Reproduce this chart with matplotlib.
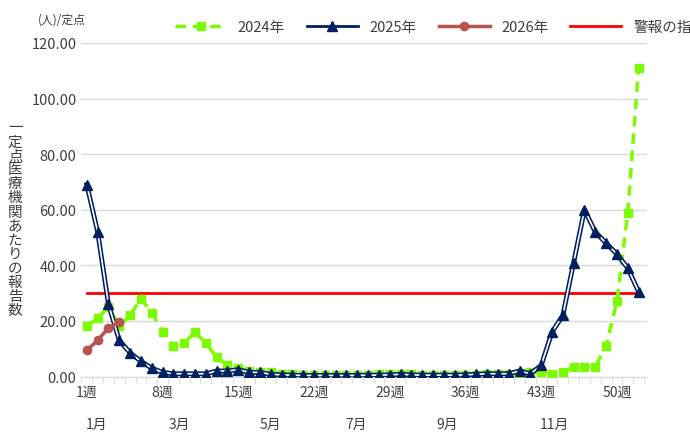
import numpy as np
import matplotlib.pyplot as plt

plt.rcParams['font.family'] = ['Noto Sans CJK JP', 'DejaVu Sans']

weeks = np.arange(1, 53)
y2024 = [18, 21, 25, 18, 22, 28, 23, 16, 11, 12, 16, 12, 7, 4, 3, 2, 1.5, 1.5, 1, 0.8,
         0.6, 0.5, 0.5, 0.5, 0.5, 0.5, 0.6, 0.8, 1, 1, 0.8, 0.6, 0.5, 0.5, 0.5, 0.5,
         0.6, 0.8, 1, 1, 1.2, 1.5, 1.5, 1, 1.5, 3.5, 3.5, 3.5, 11, 27, 59, 111]
y2025 = [69, 52, 26, 13, 8.5, 5.5, 3, 1.5, 1, 1, 1, 1, 2, 2, 2.5, 1.5, 1.5, 0.8, 0.6, 0.5,
         0.4, 0.4, 0.4, 0.4, 0.4, 0.4, 0.5, 0.5, 0.6, 0.8, 0.6, 0.5, 0.5, 0.5, 0.5, 0.6,
         0.8, 1, 1, 1, 2, 1, 4, 16, 22, 41, 60, 52, 48, 44, 39, 30.5]
y2026 = [9.5, 13, 17.5, 19.5]
alert = 30

week_ticks = [1, 8, 15, 22, 29, 36, 43, 50]
month_labels = ['1月', '3月', '5月', '7月', '9月', '11月']
month_pos = [1.9, 9.6, 18, 25.9, 34.3, 44.2]

fig = plt.figure(figsize=(6.9, 4.39), dpi=100)
ax = fig.add_axes([0.118, 0.14, 0.82, 0.76])

ax.plot([1, 52], [alert, alert], color='#FF0000', lw=2, label='警報の指標', zorder=2)
ax.plot(weeks, y2024, '--s', color='#7CFC00', lw=2.5, ms=6, label='2024年', dashes=(3, 2), zorder=3)
ax.plot(weeks, y2025, '-', color='#002060', lw=3.5, zorder=4)
ax.plot(weeks, y2025, '-', color='white', lw=1.2, zorder=4)
ax.plot(weeks, y2025, '^', color='#002060', ms=6.5, zorder=5)
ax.plot(weeks[:4], y2026, '-o', color='#B85450', lw=2.5, ms=6, zorder=6)

# legend handles
h24, = ax.plot([], [], '--s', color='#7CFC00', lw=2.5, ms=6, dashes=(3, 2))
h25, = ax.plot([], [], '-^', color='#002060', lw=2, ms=6.5, mfc='#002060')
h26, = ax.plot([], [], '-o', color='#B85450', lw=2.5, ms=6)
ha, = ax.plot([], [], color='#FF0000', lw=2)

ax.set_xlim(0.5, 52.8)
ax.set_ylim(0, 120)
ax.set_yticks(np.arange(0, 121, 20))
ax.set_yticklabels([f'{v:.2f}' for v in np.arange(0, 121, 20)], fontsize=10.5, color='#404040')
ax.set_xticks(week_ticks)
ax.set_xticklabels([f'{w}週' for w in week_ticks], fontsize=10, color='#404040')
ax.set_xticks(np.arange(0.5, 53, 1), minor=True)
ax.tick_params(axis='x', which='major', length=0, pad=6)
ax.tick_params(axis='x', which='minor', length=5, color='#d9d9d9')
ax.tick_params(axis='y', length=0)
ax.grid(axis='y', color='#d9d9d9', lw=1)
ax.set_axisbelow(True)
for s in ['top', 'right', 'left']:
    ax.spines[s].set_visible(False)
ax.spines['bottom'].set_color('#d9d9d9')

for lab, p in zip(month_labels, month_pos):
    ax.text(p, -0.12, lab, transform=ax.get_xaxis_transform(), ha='center', va='top',
            fontsize=10, color='#404040')

fig.text(0.022, 0.5, '\n'.join('一定点医療機関あたりの報告数'), ha='center', va='center',
         fontsize=10.5, color='#404040', linespacing=1.0)
fig.text(0.055, 0.955, '(人)/定点', fontsize=8.5, color='#404040', va='center')

ax.legend([h24, h25, h26, ha], ['2024年', '2025年', '2026年', '警報の指標'],
          loc='lower left', bbox_to_anchor=(0.15, 1.0), ncol=4, frameon=False,
          fontsize=10.5, handlelength=3.5, columnspacing=1.5, labelcolor='#404040',
          borderaxespad=0.2)

fig.savefig('out.png')
